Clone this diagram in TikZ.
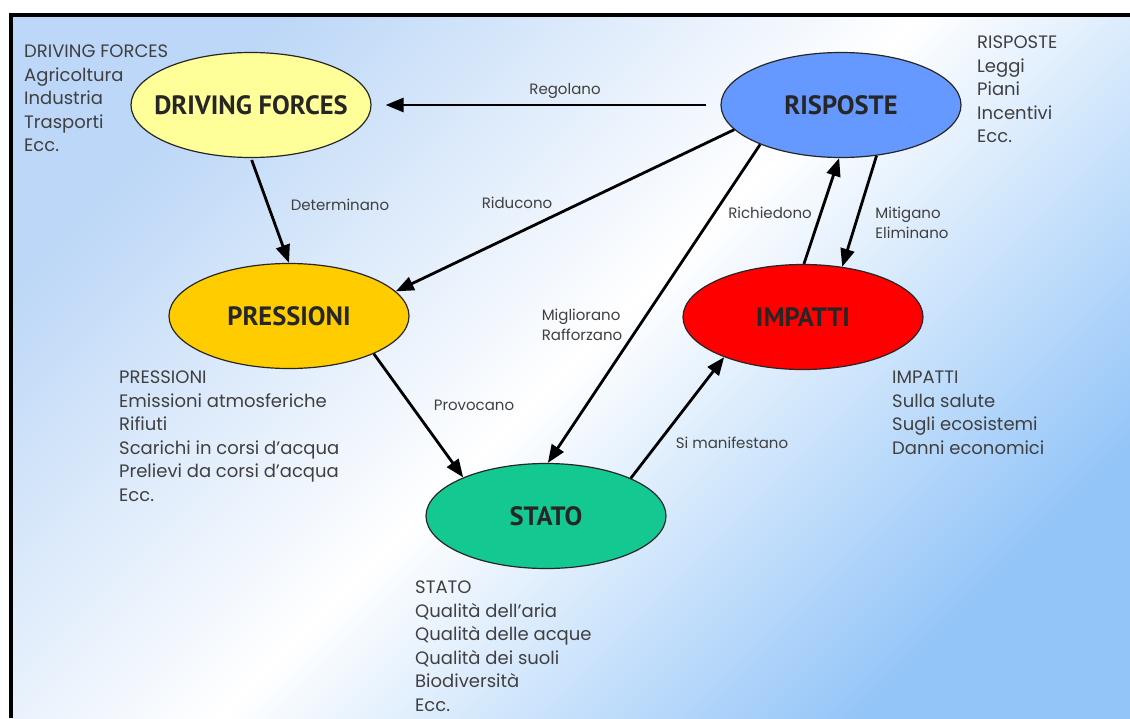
\documentclass[tikz,border=0pt]{standalone}
\usepackage{fontspec}
\setmainfont{Poppins}
\newfontfamily\ellfont{PT Sans}
\usetikzlibrary{arrows.meta,shapes.geometric}

\definecolor{dfyellow}{RGB}{255,255,153}
\definecolor{pressgold}{RGB}{255,204,0}
\definecolor{rispblue}{RGB}{102,153,255}
\definecolor{impred}{RGB}{255,0,0}
\definecolor{statogreen}{RGB}{20,200,145}
\definecolor{bgtl}{RGB}{188,215,247}
\definecolor{bgbr}{RGB}{148,197,248}

\tikzset{
	phase/.style={ellipse, draw=black!85, line width=1.2pt, minimum width=240pt, minimum height=105pt, inner sep=0pt, font=\ellfont\bfseries\fontsize{26.5}{26.5}\selectfont, text=black!85},
	flow/.style={line width=2.8pt, -{Triangle[length=18pt,width=14pt]}},
	verb/.style={align=left, inner sep=0pt, font=\fontsize{15}{19.5}\selectfont, text=black!75},
	lista/.style={anchor=north west, align=left, inner sep=0pt, font=\fontsize{18}{23.5}\selectfont, text=black!75}
}

\begin{document}
\begin{tikzpicture}[x=1pt,y=-1pt]
			%%%%% START %%%%%
			\useasboundingbox (0,0) rectangle (1130,718);
			\shade[top color=bgtl, bottom color=bgbr, middle color=white, shading angle=45] (11,15) rectangle (1130,718);
			\draw[line width=4pt] (11,718) -- (11,15) -- (1130,15);
			
			\node[phase, fill=dfyellow] (df) at (251,105) {\makebox[0pt]{DRIVING FORCES}};
			\node[phase, fill=rispblue] (risp) at (841,105) {RISPOSTE};
			\node[phase, fill=pressgold] (press) at (289,316) {PRESSIONI};
			\node[phase, fill=impred] (imp) at (803,317) {IMPATTI};
			\node[phase, fill=statogreen] (stato) at (546,516) {STATO};
			
			\draw[flow, shorten <=14pt, shorten >=14pt] (risp.west) -- (df.east);
			\draw[flow, shorten <=2pt] (df.south) -- (press.north);
			\draw[flow] (risp.193) -- (press.13);
			\draw[flow] (risp.206) -- (stato.88);
			\draw[flow] (imp.89) -- (risp.268);
			\draw[flow] (risp.305) -- (imp.52);
			\draw[flow] (press.336) -- (stato.155);
			\draw[flow] (stato.24) -- (imp.207);
			
			\node[verb] (regolano) at (565,91) {Regolano};
			\node[verb] (determinano) at (340,205) {Determinano};
			\node[verb] (riducono) at (517,203) {Riducono};
			\node[verb] (migliorano) at (582,325) {Migliorano\\Rafforzano};
			\node[verb] (richiedono) at (770,213) {Richiedono};
			\node[verb] (mitigano) at (912,223) {Mitigano\\Eliminano};
			\node[verb] (provocano) at (474,405) {Provocano};
			\node[verb] (manifestano) at (732,443) {Si manifestano};
			
			\node[lista] (dflist) at (24,45) {DRIVING FORCES\\Agricoltura\\Industria\\Trasporti\\Ecc.};
			\node[lista] (risplist) at (977,36) {RISPOSTE\\Leggi\\Piani\\Incentivi\\Ecc.};
			\node[lista] (presslist) at (119,371) {PRESSIONI\\Emissioni atmosferiche\\Rifiuti\\Scarichi in corsi d'acqua\\Prelievi da corsi d'acqua\\Ecc.};
			\node[lista] (implist) at (892,371) {IMPATTI\\Sulla salute\\Sugli ecosistemi\\Danni economici};
			\node[lista] (statolist) at (415,581) {STATO\\Qualità dell'aria\\Qualità delle acque\\Qualità dei suoli\\Biodiversità\\Ecc.};
			%%%%% END %%%%%
\end{tikzpicture}
\end{document}
